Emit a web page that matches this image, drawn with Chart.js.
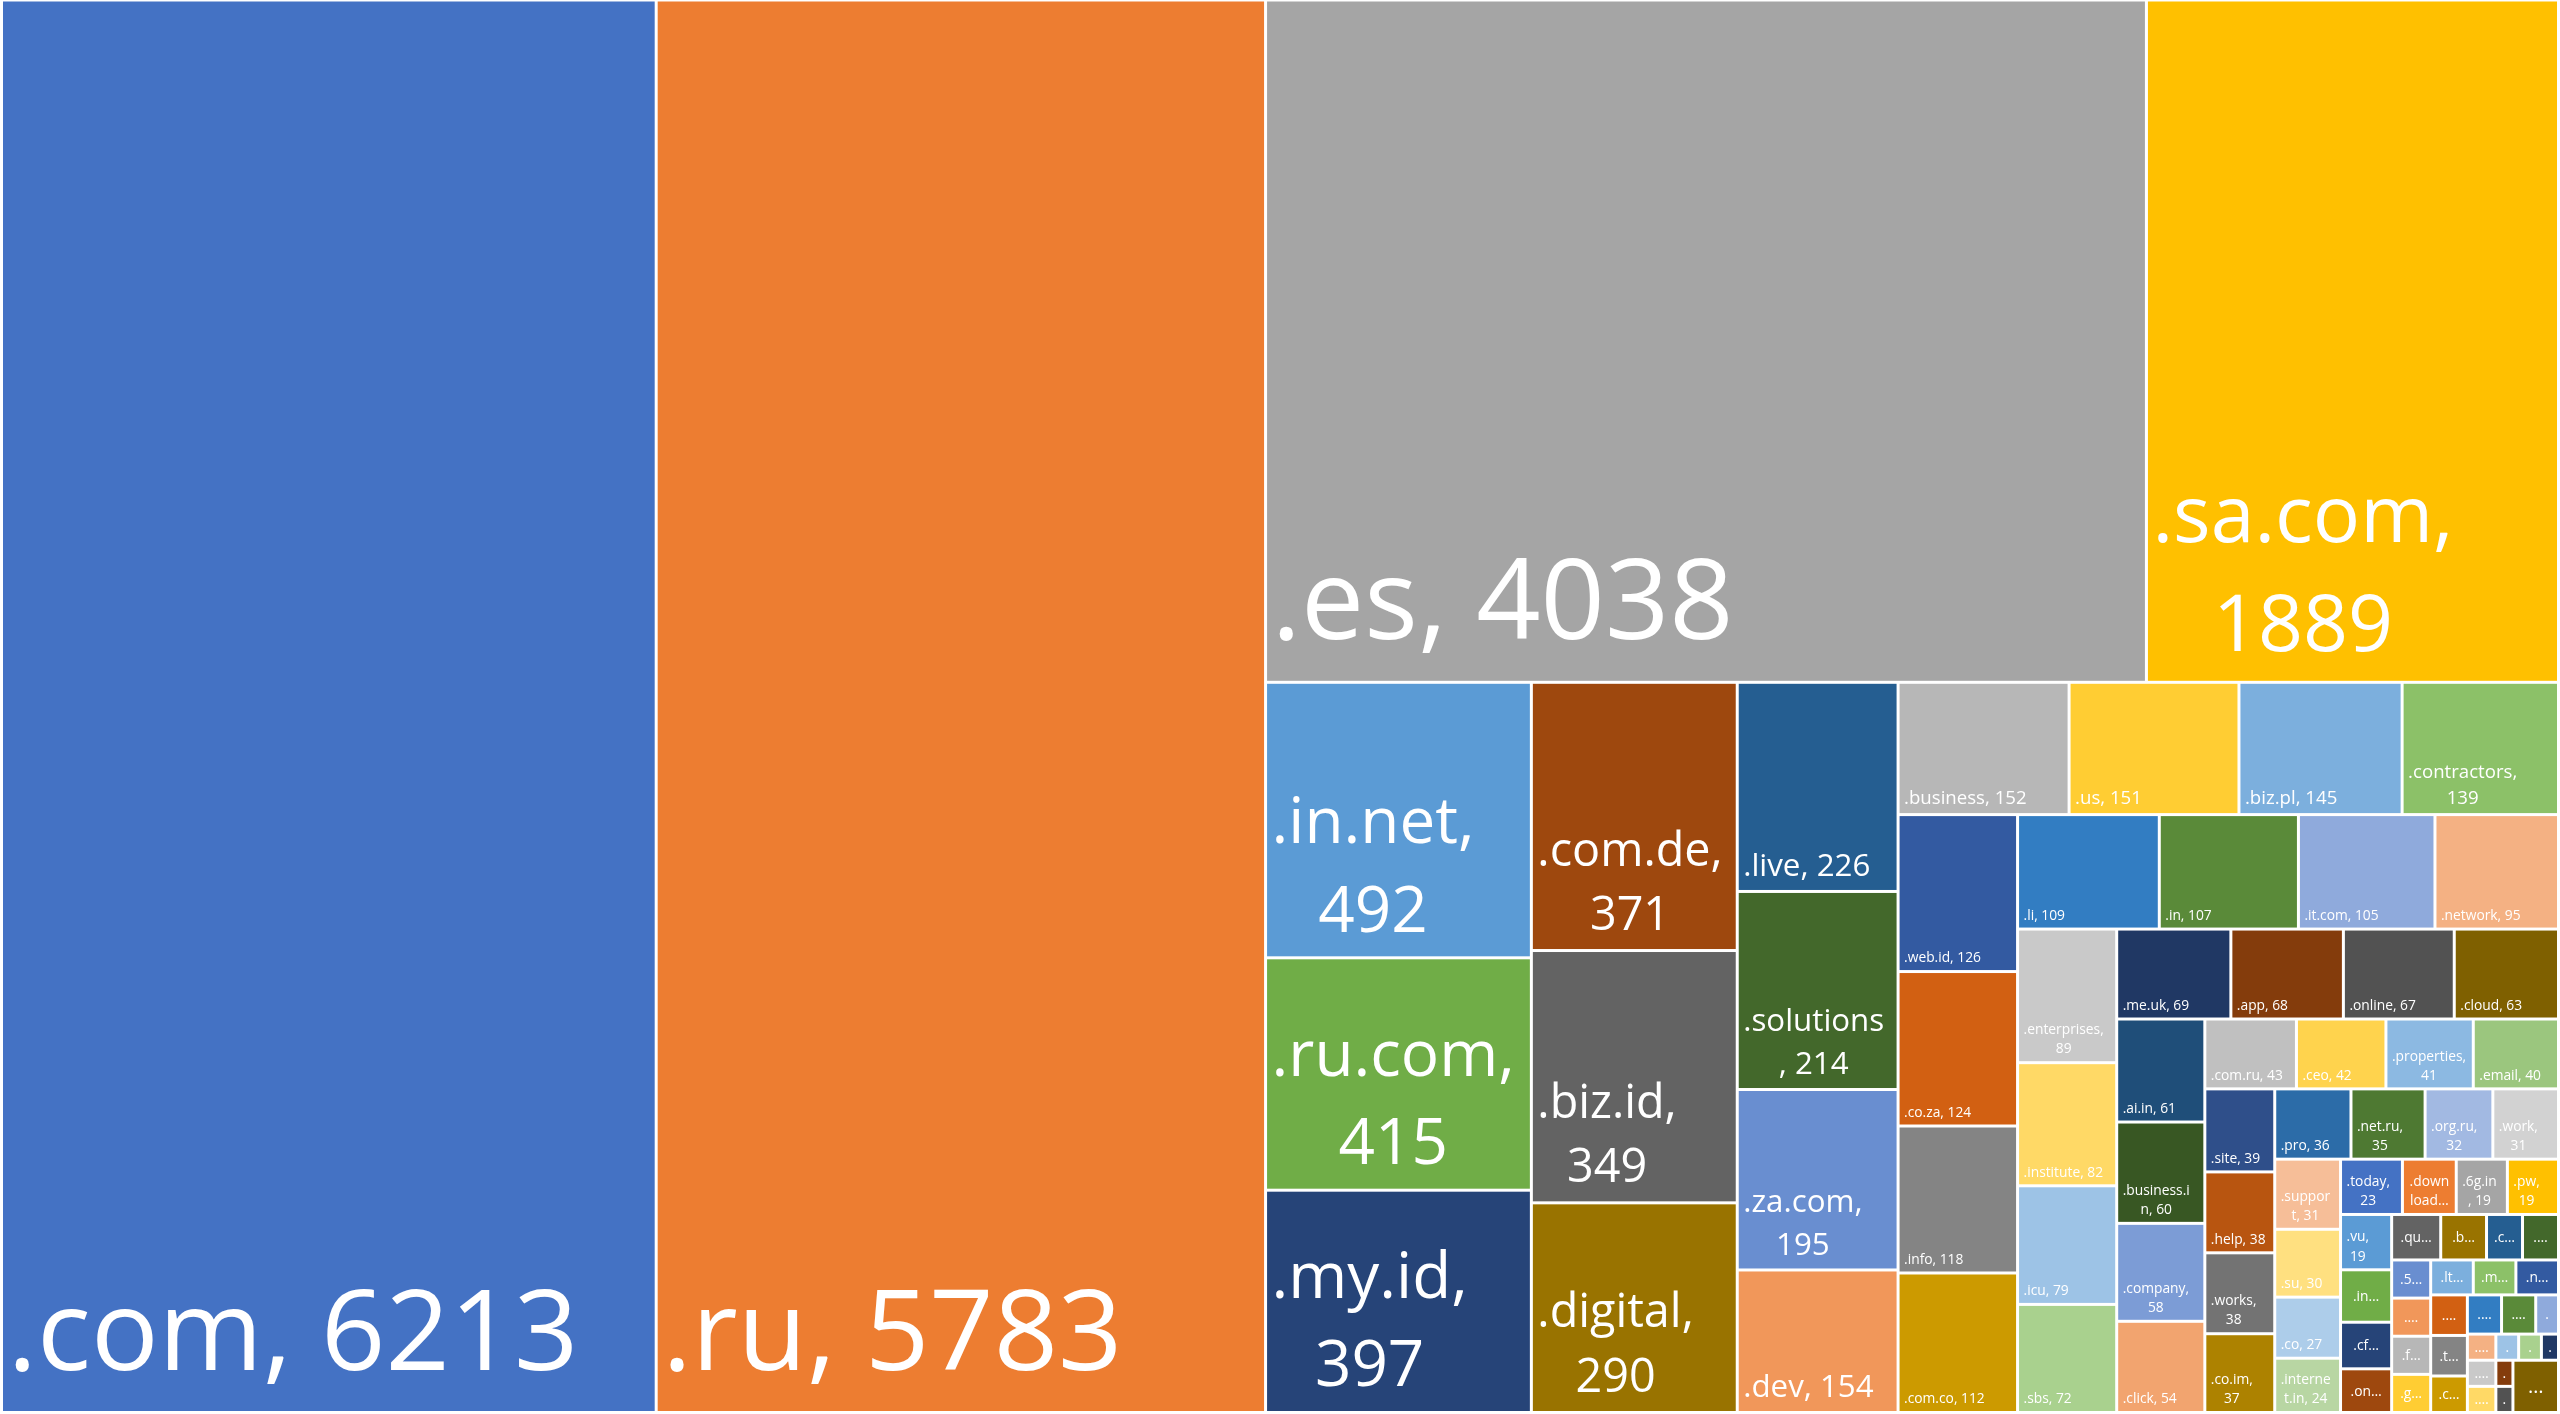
<!DOCTYPE html>
<html>
<head>
<meta charset="utf-8">
<script src="https://cdn.jsdelivr.net/npm/chart.js@4.4.1/dist/chart.umd.min.js"></script>
<style>
  html, body { margin: 0; padding: 0; background: #ffffff; }
  #wrap { width: 2560px; height: 1414px; position: relative; }
</style>
</head>
<body>
<div id="wrap"><canvas id="chart"></canvas></div>
<script>
// ---------------- DATA ----------------
const categories = [
  '.com', '.ru', '.es', '.sa.com', '.in.net', '.ru.com', '.my.id', '.com.de', '.biz.id', '.digital',
  '.live', '.solutions', '.za.com', '.dev', '.business', '.us', '.biz.pl', '.contractors', '.web.id', '.co.za',
  '.info', '.com.co', '.li', '.in', '.it.com', '.network', '.enterprises', '.institute', '.icu', '.sbs',
  '.me.uk', '.app', '.online', '.cloud', '.ai.in', '.business.in', '.company', '.click', '.com.ru', '.ceo',
  '.properties', '.email', '.site', '.help', '.works', '.co.im', '.pro', '.net.ru', '.org.ru', '.work',
  '.support', '.su', '.co', '.internet.in', '.today', '.download', '.6g.in', '.pw', '.vu', '.in…',
  '.cf…', '.on…', '.qu…', '.b…', '.c…', '.…', '.5…', '.…', '.f…', '.g…',
  '.lt…', '.m…', '.n…', '.…', '.t…', '.c…', '.…', '.…', '.', '.…',
  '.…', '.…', '.', '.', '.', '.', '.', '…'
];
const counts = [
  6213, 5783, 4038, 1889, 492, 415, 397, 371, 349, 290,
  226, 214, 195, 154, 152, 151, 145, 139, 126, 124,
  118, 112, 109, 107, 105, 95, 89, 82, 79, 72,
  69, 68, 67, 63, 61, 60, 58, 54, 43, 42,
  41, 40, 39, 38, 38, 37, 36, 35, 32, 31,
  31, 30, 27, 24, 23, 20, 19, 19, 19, 18,
  16, 15, 15, 14, 11, 11, 10, 10, 10, 10,
  10, 10, 10, 10, 10, 9, 9, 9, 6, 5,
  5, 5, 4, 4, 3, 3, 3, 16
];
// how many consecutive cells share each strip of the treemap
const stripPlan = [1, 1, 2, 3, 3, 4, 4, 4, 4, 4, 4, 4, 4, 4, 4, 4, 4, 4, 4, 4, 3, 3, 3, 3, 3, 2, 1];

// ---------------- STYLE ----------------
const palette = [
  '#4472C4', '#ED7D31', '#A5A5A5', '#FFC000', '#5B9BD5', '#70AD47',
  '#264478', '#9E480E', '#636363', '#997300', '#255E91', '#43682B',
  '#698ED0', '#F1975A', '#B7B7B7', '#FFCD33', '#7CAFDD', '#8CC168',
  '#335AA1', '#D26012', '#848484', '#CC9A00', '#327DC2', '#5A8A39',
  '#8FAADC', '#F4B183', '#C9C9C9', '#FFD966', '#9DC3E6', '#A9D18E',
  '#203864', '#843C0C', '#525252', '#7F6000', '#1F4E79', '#385723',
  '#7C9CD6', '#F2A46F', '#C0C0C0', '#FFD34D', '#8CB9E2', '#9BC67E',
  '#2F4F8A', '#B85510', '#737373', '#AD8200', '#2C6CA8', '#4E7932',
  '#A2B9E2', '#D2D2D2', '#F6BE98', '#FFE080', '#ADCDEA', '#B8D6A3',
  '#4472C4', '#ED7D31', '#A5A5A5', '#FFC000', '#5B9BD5', '#70AD47',
  '#264478', '#9E480E', '#636363', '#997300', '#255E91', '#43682B',
  '#698ED0', '#F1975A', '#B7B7B7', '#FFCD33', '#7CAFDD', '#8CC168',
  '#335AA1', '#D26012', '#848484', '#CC9A00', '#327DC2', '#5A8A39',
  '#8FAADC', '#F4B183', '#C9C9C9', '#FFD966', '#9DC3E6', '#A9D18E',
  '#203864', '#843C0C', '#525252', '#7F6000'
];
const FAMILY = "'Open Sans', 'Liberation Sans', sans-serif";
const MIN_FONT = 13.8;
const PAD_X = 6.5;
const fontSteps = [[0, 13.8], [120, 13.8], [132, 18.5], [160, 31], [205, 46.5], [265, 63.5], [400, 112.5]];

function fontForThickness(t) {
  if (t <= fontSteps[0][0]) return fontSteps[0][1];
  for (let i = 1; i < fontSteps.length; i++) {
    const [t1, f1] = fontSteps[i];
    const [t0, f0] = fontSteps[i - 1];
    if (t <= t1) return f0 + (f1 - f0) * (t - t0) / (t1 - t0);
  }
  return fontSteps[fontSteps.length - 1][1];
}

function wrapText(ctx, text, W) {
  const lines = [];
  let cur = '';
  for (const ch of text) {
    const trial = cur + ch;
    if (cur && ctx.measureText(trial).width > W) {
      if (ch === ' ') { lines.push(cur); cur = ''; continue; }
      const sp = cur.lastIndexOf(' ');
      if (sp > 0) { lines.push(cur.slice(0, sp)); cur = cur.slice(sp + 1) + ch; }
      else { lines.push(cur); cur = ch; }
    } else {
      cur = trial;
    }
  }
  if (cur) lines.push(cur);
  return lines;
}

function truncateLines(ctx, lines, maxLines, W) {
  const kept = lines.slice(0, maxLines);
  let s = kept[maxLines - 1];
  while (s.length && ctx.measureText(s + '…').width > W) s = s.slice(0, -1);
  kept[maxLines - 1] = s.length ? s + '…' : kept[maxLines - 1].charAt(0);
  return kept;
}

function drawCellLabel(ctx, el) {
  const name = String(el.label);
  const w = el.width, h = el.height;
  ctx.save();
  ctx.fillStyle = '#ffffff';
  const stub = /…$/.test(name) || name === '.';
  if (stub) {
    const big = name === '…';
    ctx.font = `${big ? 20 : MIN_FONT}px ${FAMILY}`;
    ctx.textAlign = 'center';
    ctx.textBaseline = 'middle';
    ctx.fillText(name, el.x + w / 2, el.y + h / 2 + 1);
    ctx.restore();
    return;
  }
  const text = `${name}, ${el.value}`;
  let f = fontForThickness(el.thickness);
  for (let guard = 0; guard < 12; guard++) {
    ctx.font = `${f}px ${FAMILY}`;
    const widest = Math.max(...text.split(' ').map(wd => ctx.measureText(wd).width));
    if (widest > w - 2 && f > MIN_FONT) f = Math.max(MIN_FONT, f * 0.7);
    else break;
  }
  ctx.font = `${f}px ${FAMILY}`;
  const W = w - 2 * PAD_X;
  let lines = wrapText(ctx, text, W);
  const lh = 1.38 * f;
  const bottomGap = 4.6 + 0.34 * f;
  const maxLines = Math.max(1, Math.floor((h - bottomGap - 0.8 * f - 3) / lh) + 1);
  let truncated = false;
  if (lines.length > maxLines) { lines = truncateLines(ctx, lines, maxLines, W); truncated = true; }
  const widths = lines.map(l => ctx.measureText(l).width);
  const blockW = truncated ? W : Math.max(...widths);
  const left = truncated ? el.x + PAD_X : el.x + 6;
  const baseLast = el.y + h - bottomGap;
  ctx.textAlign = 'left';
  ctx.textBaseline = 'alphabetic';
  lines.forEach((l, k) => {
    const by = baseLast - (lines.length - 1 - k) * lh;
    ctx.fillText(l, left + (blockW - widths[k]) / 2, by);
  });
  ctx.restore();
}

// ---------------- Chart.js treemap controller ----------------
class TreemapCell extends Chart.Element {
  draw(ctx) {
    const o = this.options || {};
    const g = (o.gap || 0) / 2;
    ctx.save();
    ctx.fillStyle = o.backgroundColor;
    ctx.fillRect(this.x + g, this.y + g, this.width - 2 * g, this.height - 2 * g);
    ctx.restore();
    drawCellLabel(ctx, this);
  }
}
TreemapCell.id = 'treemapCell';
TreemapCell.defaults = { backgroundColor: '#999999', gap: 3 };

function layoutStrips(values, plan, area) {
  let x = area.left, y = area.top, w = area.right - area.left, h = area.bottom - area.top;
  const total = values.reduce((a, b) => a + b, 0);
  const k = (w * h) / total;
  const rects = [];
  let i = 0;
  const n = values.length;
  const fullPlan = plan.slice();
  let planned = fullPlan.reduce((a, b) => a + b, 0);
  while (planned < n) { fullPlan.push(1); planned++; }
  for (const cnt of fullPlan) {
    if (i >= n) break;
    const idx = [];
    let s = 0;
    for (let j = 0; j < cnt && i < n; j++, i++) { idx.push(i); s += values[i]; }
    const last = i >= n;
    if (w >= h) {
      const t = last ? w : s * k / h;
      let yy = y;
      idx.forEach((q, m) => {
        const hh = m === idx.length - 1 ? (y + h - yy) : values[q] * k / t;
        rects[q] = { x: x, y: yy, w: t, h: hh, t: t };
        yy += hh;
      });
      x += t; w -= t;
    } else {
      const t = last ? h : s * k / w;
      let xx = x;
      idx.forEach((q, m) => {
        const ww = m === idx.length - 1 ? (x + w - xx) : values[q] * k / t;
        rects[q] = { x: xx, y: y, w: ww, h: t, t: t };
        xx += ww;
      });
      y += t; h -= t;
    }
  }
  return rects;
}

class TreemapController extends Chart.DatasetController {
  parse(start, count) {
    const data = this.getDataset().data;
    const meta = this._cachedMeta;
    for (let i = start; i < start + count; ++i) meta._parsed[i] = +data[i];
  }
  update(mode) {
    const meta = this._cachedMeta;
    this.updateElements(meta.data, 0, meta.data.length, mode);
  }
  updateElements(elements, start, count, mode) {
    const area = this.chart.chartArea;
    const ds = this.getDataset();
    const values = this._cachedMeta._parsed.slice(0, elements.length);
    const rects = layoutStrips(values, ds.strips || [], area);
    const labels = this.chart.data.labels;
    for (let i = start; i < start + count; i++) {
      const r = rects[i];
      let options;
      try { options = this.resolveDataElementOptions(i, mode); } catch (e) { options = null; }
      const bg = Array.isArray(ds.backgroundColor) ? ds.backgroundColor[i] : ds.backgroundColor;
      const opts = { backgroundColor: (options && options.backgroundColor) || bg, gap: (options && options.gap) || 3 };
      Object.assign(elements[i], {
        x: r.x, y: r.y, width: r.w, height: r.h, thickness: r.t,
        label: labels[i], value: values[i], options: opts
      });
    }
  }
}
TreemapController.id = 'treemapStrips';
TreemapController.defaults = { dataElementType: 'treemapCell', datasetElementType: false };
TreemapController.overrides = {
  plugins: { legend: { display: false }, tooltip: { enabled: false } }
};

Chart.register(TreemapController, TreemapCell);

new Chart(document.getElementById('chart').getContext('2d'), {
  type: 'treemapStrips',
  data: {
    labels: categories,
    datasets: [{
      data: counts,
      strips: stripPlan,
      backgroundColor: palette
    }]
  },
  options: {
    responsive: true,
    maintainAspectRatio: false,
    animation: false,
    events: [],
    layout: { padding: { left: 1.5, right: 1.5, top: 0, bottom: 1.5 } },
    plugins: { legend: { display: false }, tooltip: { enabled: false }, title: { display: false } }
  }
});
</script>
</body>
</html>
